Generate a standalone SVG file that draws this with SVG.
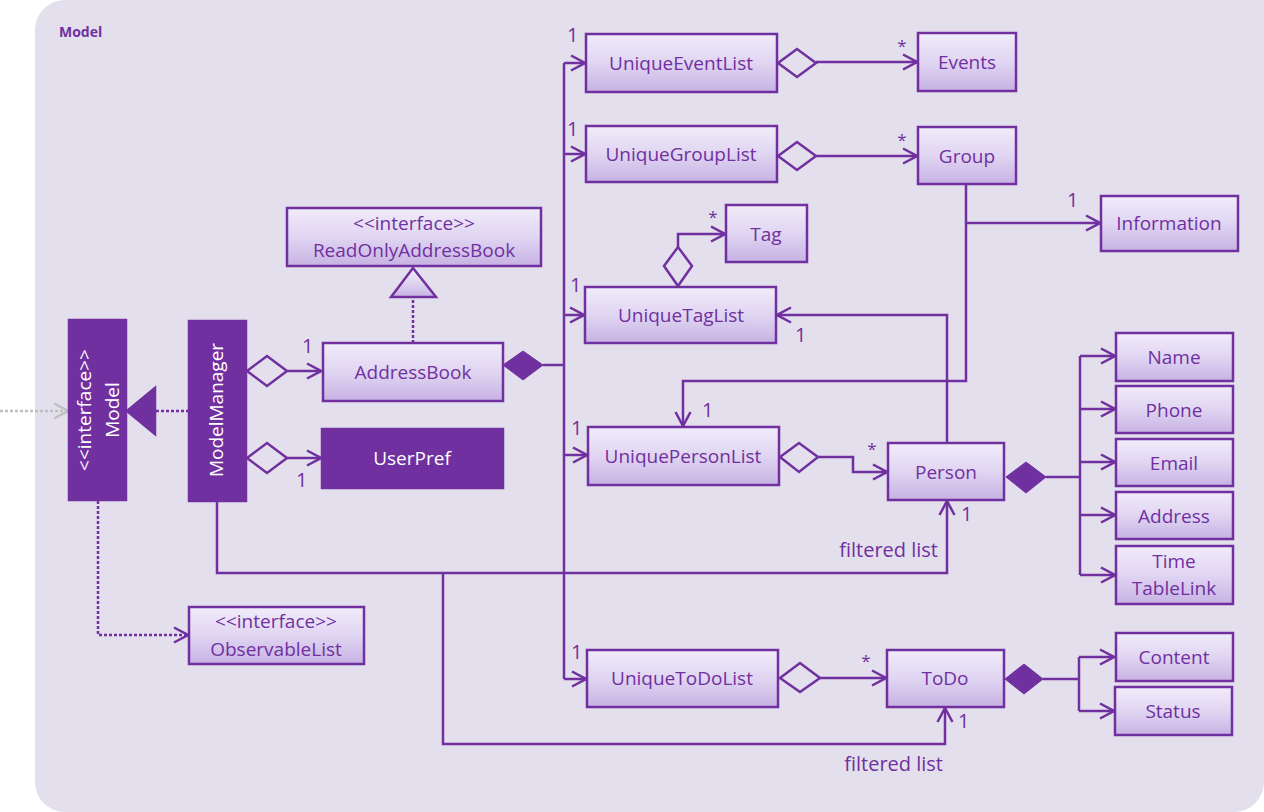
<svg xmlns="http://www.w3.org/2000/svg" width="1264" height="812" viewBox="0 0 1264 812">
<defs>
<linearGradient id="g" x1="0" y1="0" x2="0" y2="1">
<stop offset="0" stop-color="#F1ECFA"/>
<stop offset="0.5" stop-color="#E0D5F2"/>
<stop offset="1" stop-color="#C7B2E3"/>
</linearGradient>
<marker id="arr" viewBox="0 0 16 18" refX="15" refY="9" markerWidth="16" markerHeight="18" orient="auto" markerUnits="userSpaceOnUse">
<path d="M1,1.5 L15,9 L1,16.5" fill="none" stroke="#7030A0" stroke-width="2.5"/>
</marker>
<marker id="arrg" viewBox="0 0 16 18" refX="15" refY="9" markerWidth="16" markerHeight="18" orient="auto" markerUnits="userSpaceOnUse">
<path d="M1,1.5 L15,9 L1,16.5" fill="none" stroke="#BFBFBF" stroke-width="2.5"/>
</marker>
<style>
.box{fill:url(#g);stroke:#7030A0;stroke-width:2.5}
.solid{fill:#7030A0;stroke:#7030A0;stroke-width:2.5}
.t{font-family:"Open Sans","Noto Sans",sans-serif;font-size:19px;fill:#7030A0;text-anchor:middle}
.w{font-family:"Open Sans","Noto Sans",sans-serif;font-size:19px;fill:#FFFFFF;text-anchor:middle}
.m{font-family:"Open Sans","Noto Sans",sans-serif;font-size:20px;fill:#7030A0}
.s{font-family:"Open Sans","Noto Sans",sans-serif;font-size:17px;fill:#7030A0;text-anchor:middle}
.ln{fill:none;stroke:#7030A0;stroke-width:2.5}
.dot{fill:none;stroke:#7030A0;stroke-width:2.5;stroke-dasharray:3 2}
.hd{fill:#E4DFEC;stroke:#7030A0;stroke-width:2.5}
.fd{fill:#7030A0;stroke:#7030A0;stroke-width:1}
</style>
</defs>
<rect x="0" y="0" width="1264" height="812" fill="#FFFFFF"/>
<rect x="35" y="0" width="1259" height="842" rx="30" ry="30" fill="#E4DFEC"/>
<path d="M35,782 A30,30 0 0 0 65,812 L35,812 Z" fill="#FFFFFF"/>
<path d="M1234,812 A30,30 0 0 0 1264,782 L1264,812 Z" fill="#FFFFFF"/>
<text x="59" y="37" font-family="'Open Sans','Noto Sans',sans-serif" font-size="14" font-weight="bold" fill="#7030A0">Model</text>

<g id="connectors">
<path d="M0,411 H68" fill="none" stroke="#BFBFBF" stroke-width="2.5" stroke-dasharray="3 2" marker-end="url(#arrg)"/>
<path class="dot" d="M189,411 H155"/>
<polygon class="solid" points="127,411 155,388 155,434"/>
<path class="dot" d="M98,501 V635 H188" marker-end="url(#arr)"/>
<polygon class="hd" points="247,371 267,356 287,371 267,386"/>
<path class="ln" d="M287,371 H321" marker-end="url(#arr)"/>
<polygon class="hd" points="247,458 267,443 287,458 267,473"/>
<path class="ln" d="M287,458 H321" marker-end="url(#arr)"/>
<path class="dot" d="M413,343 V297"/>
<polygon class="box" points="413,268 391,297 436,297"/>
<polygon class="fd" points="503,365 523,351 543,365 523,380"/>
<path class="ln" d="M543,365 H564"/>
<path class="ln" d="M564,63 V679"/>
<path class="ln" d="M564,63 H585" marker-end="url(#arr)"/>
<path class="ln" d="M564,154 H585" marker-end="url(#arr)"/>
<path class="ln" d="M564,315 H584" marker-end="url(#arr)"/>
<path class="ln" d="M564,455 H587" marker-end="url(#arr)"/>
<path class="ln" d="M564,679 H586" marker-end="url(#arr)"/>
<polygon class="hd" points="778,63 797,49 816,63 797,77"/>
<path class="ln" d="M816,62 H917" marker-end="url(#arr)"/>
<polygon class="hd" points="778,156 797,142 816,156 797,170"/>
<path class="ln" d="M816,156 H917" marker-end="url(#arr)"/>
<polygon class="hd" points="678,286 664,266 678,247 692,266"/>
<path class="ln" d="M678,247 V234 H725" marker-end="url(#arr)"/>
<path class="ln" d="M947,443 V315 H777" marker-end="url(#arr)"/>
<path class="ln" d="M966,184 V381 H683 V426" marker-end="url(#arr)"/>
<path class="ln" d="M966,223 H1100" marker-end="url(#arr)"/>
<polygon class="hd" points="780,457 799,443 818,457 799,472"/>
<path class="ln" d="M818,457 H853 V472 H887" marker-end="url(#arr)"/>
<polygon class="fd" points="1006,477 1026,462 1046,477 1026,493"/>
<path class="ln" d="M1046,477 H1080"/>
<path class="ln" d="M1080,356 V575"/>
<path class="ln" d="M1080,356 H1115" marker-end="url(#arr)"/>
<path class="ln" d="M1080,409 H1115" marker-end="url(#arr)"/>
<path class="ln" d="M1080,462 H1115" marker-end="url(#arr)"/>
<path class="ln" d="M1080,515 H1115" marker-end="url(#arr)"/>
<path class="ln" d="M1080,575 H1115" marker-end="url(#arr)"/>
<polygon class="hd" points="780,678 800,663 820,678 800,692"/>
<path class="ln" d="M820,678 H886" marker-end="url(#arr)"/>
<polygon class="fd" points="1005,679 1024,664 1043,679 1024,694"/>
<path class="ln" d="M1043,679 H1079"/>
<path class="ln" d="M1079,657 V711"/>
<path class="ln" d="M1079,657 H1114" marker-end="url(#arr)"/>
<path class="ln" d="M1079,711 H1114" marker-end="url(#arr)"/>
<path class="ln" d="M217,502 V573 H947 V501" marker-end="url(#arr)"/>
<path class="ln" d="M443,573 V744 H945 V708" marker-end="url(#arr)"/>
<text class="m" x="567" y="42">1</text>
<text class="m" x="567" y="136">1</text>
<text class="m" x="570" y="292">1</text>
<text class="m" x="795" y="342">1</text>
<text class="m" x="702" y="417">1</text>
<text class="m" x="571" y="435">1</text>
<text class="m" x="1067" y="207">1</text>
<text class="m" x="961" y="521">1</text>
<text class="m" x="302" y="353">1</text>
<text class="m" x="296" y="487">1</text>
<text class="m" x="571" y="659">1</text>
<text class="m" x="958" y="728">1</text>
<text class="s" x="902" y="52">*</text>
<text class="s" x="902" y="146">*</text>
<text class="s" x="713" y="223">*</text>
<text class="s" x="872" y="455">*</text>
<text class="s" x="866" y="667">*</text>
<text class="m" x="938" y="557" text-anchor="end">filtered list</text>
<text class="m" x="943" y="771" text-anchor="end">filtered list</text>
</g>

<g id="model">
<rect class="solid" x="69" y="320" width="57" height="180"/>
<text class="w" transform="translate(91,410) rotate(-90)">&lt;&lt;interface&gt;&gt;</text>
<text class="w" transform="translate(119,410) rotate(-90)">Model</text>
</g>
<g id="modelManager">
<rect class="solid" x="189" y="321" width="57" height="180"/>
<text class="w" transform="translate(223,410) rotate(-90)">ModelManager</text>
</g>
<g id="readOnlyAddressBook">
<rect class="box" x="287" y="208" width="254" height="58"/>
<text class="t" x="414" y="230">&lt;&lt;interface&gt;&gt;</text>
<text class="t" x="414" y="257">ReadOnlyAddressBook</text>
</g>
<g id="addressBook">
<rect class="box" x="323" y="343" width="180" height="58"/>
<text class="t" x="413" y="379">AddressBook</text>
</g>
<g id="userPref">
<rect class="solid" x="322" y="429" width="181" height="59"/>
<text class="w" x="412" y="465">UserPref</text>
</g>
<g id="observableList">
<rect class="box" x="189" y="607" width="175" height="57"/>
<text class="t" x="276" y="628">&lt;&lt;interface&gt;&gt;</text>
<text class="t" x="276" y="656">ObservableList</text>
</g>
<g id="uniqueEventList">
<rect class="box" x="586" y="34" width="191" height="58"/>
<text class="t" x="681" y="70">UniqueEventList</text>
</g>
<g id="events">
<rect class="box" x="918" y="33" width="98" height="58"/>
<text class="t" x="967" y="69">Events</text>
</g>
<g id="uniqueGroupList">
<rect class="box" x="586" y="126" width="191" height="56"/>
<text class="t" x="681" y="161">UniqueGroupList</text>
</g>
<g id="group">
<rect class="box" x="918" y="127" width="98" height="57"/>
<text class="t" x="967" y="163">Group</text>
</g>
<g id="information">
<rect class="box" x="1101" y="196" width="137" height="55"/>
<text class="t" x="1169" y="230">Information</text>
</g>
<g id="tag">
<rect class="box" x="726" y="205" width="81" height="57"/>
<text class="t" x="766" y="241">Tag</text>
</g>
<g id="uniqueTagList">
<rect class="box" x="585" y="287" width="191" height="56"/>
<text class="t" x="681" y="322">UniqueTagList</text>
</g>
<g id="uniquePersonList">
<rect class="box" x="588" y="427" width="191" height="58"/>
<text class="t" x="683" y="463">UniquePersonList</text>
</g>
<g id="person">
<rect class="box" x="888" y="443" width="116" height="57"/>
<text class="t" x="946" y="479">Person</text>
</g>
<g id="name">
<rect class="box" x="1116" y="333" width="117" height="48"/>
<text class="t" x="1174" y="364">Name</text>
</g>
<g id="phone">
<rect class="box" x="1116" y="386" width="117" height="47"/>
<text class="t" x="1174" y="417">Phone</text>
</g>
<g id="email">
<rect class="box" x="1116" y="439" width="117" height="47"/>
<text class="t" x="1174" y="470">Email</text>
</g>
<g id="address">
<rect class="box" x="1116" y="492" width="117" height="47"/>
<text class="t" x="1174" y="523">Address</text>
</g>
<g id="timeTableLink">
<rect class="box" x="1116" y="546" width="117" height="58"/>
<text class="t" x="1174" y="568">Time</text>
<text class="t" x="1174" y="595">TableLink</text>
</g>
<g id="uniqueToDoList">
<rect class="box" x="587" y="650" width="191" height="57"/>
<text class="t" x="682" y="685">UniqueToDoList</text>
</g>
<g id="toDo">
<rect class="box" x="887" y="650" width="117" height="57"/>
<text class="t" x="945" y="685">ToDo</text>
</g>
<g id="content">
<rect class="box" x="1116" y="633" width="117" height="48"/>
<text class="t" x="1174" y="664">Content</text>
</g>
<g id="status">
<rect class="box" x="1115" y="687" width="117" height="48"/>
<text class="t" x="1173" y="718">Status</text>
</g>
</svg>
